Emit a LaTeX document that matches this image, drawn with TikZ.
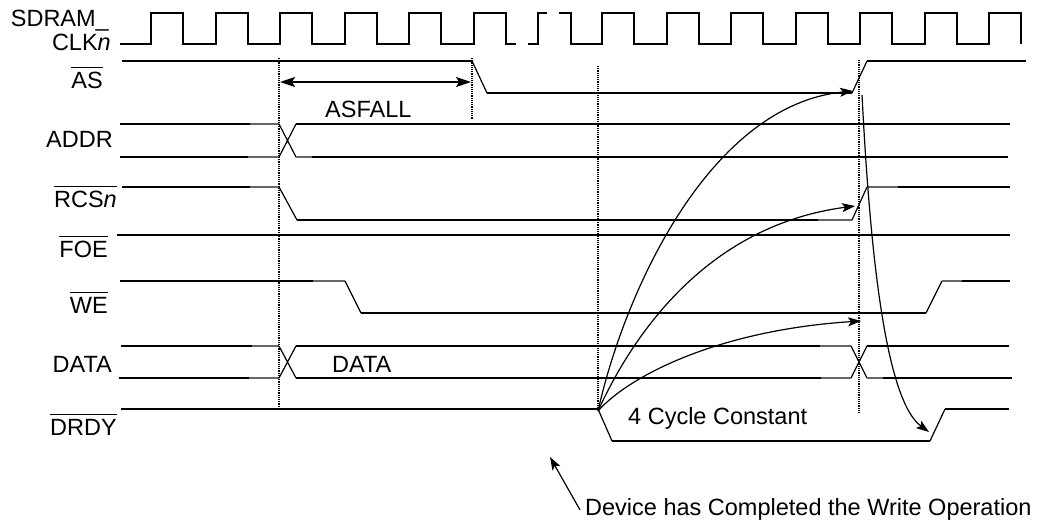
\documentclass[tikz,border=0pt]{standalone}
\usepackage{fontspec}
\setmainfont{Liberation Sans}
\usetikzlibrary{arrows.meta}
\definecolor{faint}{HTML}{666666}
\tikzset{
  wave/.style={line width=2pt, line join=miter},
  ramp/.style={line width=1.2pt},
  stub/.style={line width=1.2pt, faint},
  guide/.style={line width=1.6pt, dash pattern=on 1.2pt off 1pt},
  lbl/.style={font=\fontsize{23.5}{28}\selectfont, inner sep=0pt},
  sig/.style={lbl, anchor=base east},
  cause/.style={line width=1.2pt, -{Stealth[length=13pt,width=9pt,inset=3pt]}},
  asfall/.style={line width=1.4pt, {Stealth[length=15pt,width=10pt,inset=3pt]}-{Stealth[length=15pt,width=10pt,inset=3pt]}},
}
\newcommand{\lowact}[1]{\setbox0=\hbox{#1}\rlap{\rule[\dimexpr\ht0+3.5pt\relax]{\wd0}{1.3pt}}\box0}

\begin{document}
\begin{tikzpicture}[x=1pt, y=-1pt]
    \useasboundingbox (0,0) rectangle (1040,522);
    \node[sig] (lsd) at (109,27) {SDRAM\_};
    \node[sig] (lclk) at (111,50) {CLK\textit{n}};
    \node[sig] (las) at (103,88) {\lowact{AS}};
    \node[sig] (laddr) at (113,147) {ADDR};
    \node[sig] (lrcs) at (117,207) {\lowact{RCS\textit{n}}};
    \node[sig] (lfoe) at (108,257) {\lowact{FOE}};
    \node[sig] (lwe) at (108,313) {\lowact{WE}};
    \node[sig] (ldata) at (112,372) {DATA};
    \node[sig] (ldrdy) at (117,435) {\lowact{DRDY}};

    \draw[wave] (120,44) \foreach \k in {0,...,5}{ -- ({151+64.5*\k},44) -- ({151+64.5*\k},13) -- ({183+64.5*\k},13) -- ({183+64.5*\k},44)} -- (515.5,44);
    \draw[wave] (527.5,44) -- (537.5,44) -- (537.5,13) -- (547,13);
    \draw[wave] (559,13) -- (571,13) -- (571,44) \foreach \k in {0,...,6}{ -- ({602+64.5*\k},44) -- ({602+64.5*\k},13) -- ({634+64.5*\k},13) -- ({634+64.5*\k},44)};

    \draw[wave] (122,61) -- (472,61); \draw[ramp] (472,61) -- (487,93);
    \draw[wave] (487,93) -- (852,93); \draw[ramp] (852,93) -- (867,61);
    \draw[wave] (867,61) -- (1026,61);

    \draw[wave] (120,124) -- (250,124); \draw[stub] (250,124) -- (279,124);
    \draw[ramp] (279,124) -- (296,157) (279,157) -- (296,124);
    \draw[wave] (296,124) -- (1010,124);
    \draw[wave] (120,157) -- (248,157); \draw[stub] (248,157) -- (279,157) (296,157) -- (312,157);
    \draw[wave] (312,157) -- (1008,157);

    \draw[wave] (122,187) -- (250,187); \draw[stub] (250,187) -- (279,187);
    \draw[ramp] (279,187) -- (297,220); \draw[wave] (297,220) -- (818,220);
    \draw[stub] (818,220) -- (852,220); \draw[ramp] (852,220) -- (867,187);
    \draw[stub] (867,187) -- (898,187); \draw[wave] (898,187) -- (1010,187);

    \draw[wave] (117,235) -- (1010,235);

    \draw[wave] (120,281) -- (313,281); \draw[stub] (313,281) -- (345,281);
    \draw[ramp] (345,281) -- (361,313); \draw[wave] (361,313) -- (926,313);
    \draw[ramp] (926,313) -- (942,281); \draw[stub] (942,281) -- (962,281);
    \draw[wave] (962,281) -- (1010,281);

    \draw[wave] (121,346) -- (252,346); \draw[stub] (252,346) -- (279,346);
    \draw[ramp] (279,346) -- (296,378) (279,378) -- (296,346);
    \draw[wave] (296,346) -- (820,346); \draw[stub] (820,346) -- (851,346);
    \draw[ramp] (851,346) -- (867,378) (851,378) -- (867,346);
    \draw[wave] (867,346) -- (1009,346);
    \draw[wave] (119,378) -- (249,378); \draw[stub] (249,378) -- (279,378);
    \draw[wave] (296,378) -- (821,378); \draw[stub] (821,378) -- (851,378) (867,378) -- (883,378);
    \draw[wave] (883,378) -- (1012,378);
    \node[lbl, anchor=base west] (tdata) at (332,372) {DATA};

    \draw[wave] (121,409) -- (598,409); \draw[ramp] (598,409) -- (612,441);
    \draw[wave] (612,441) -- (930,441); \draw[ramp] (930,441) -- (945,409);
    \draw[wave] (945,409) -- (1009,409);

    \draw[guide] (279,58) -- (279,410);
    \draw[guide] (472,58) -- (472,119);
    \draw[guide] (598,66) -- (598,411);
    \draw[guide] (859,60) -- (859,414);

    \coordinate (fa) at (280,82);
    \coordinate (fb) at (471,82);
    \draw[asfall] (fa) -- (fb);
    \node[lbl, anchor=base west] (tfall) at (325,117) {ASFALL};

    \coordinate (fire) at (598,411);
    \coordinate (hitas) at (853,91);
    \coordinate (hitrcs) at (855,206);
    \coordinate (hitwe) at (861,321);
    \coordinate (asup) at (862,95);
    \coordinate (hitdrdy) at (929,432);
    \draw[cause] (fire) .. controls (625,290) and (710,105) .. (hitas);
    \draw[cause] (fire) .. controls (635,330) and (710,225) .. (hitrcs);
    \draw[cause] (fire) .. controls (630,375) and (720,330) .. (hitwe);
    \draw[cause] (asup) .. controls (870,250) and (885,400) .. (hitdrdy);
    \node[lbl, anchor=base west] (tcyc) at (628,424) {4 Cycle Constant};

    \node[lbl, anchor=base west] (tdone) at (585,515) {Device has Completed the Write Operation};
    \coordinate (done) at (550,457);
    \draw[cause] ([xshift=-5pt, yshift=-1pt]tdone.west) -- (done);
  \end{tikzpicture}
\end{document}
